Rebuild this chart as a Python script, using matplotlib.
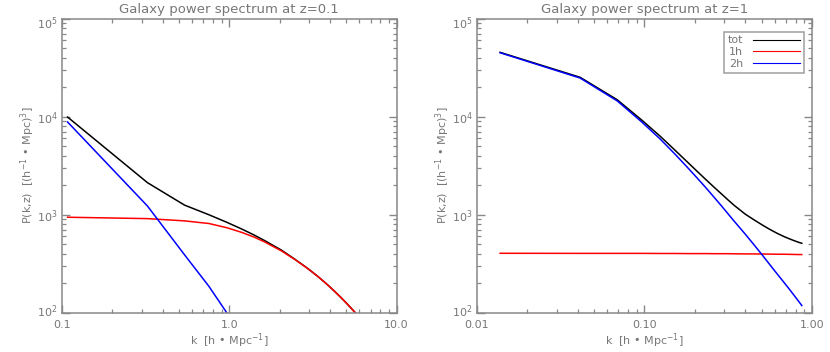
import numpy as np
import matplotlib
matplotlib.use("Agg")
import matplotlib.pyplot as plt
import matplotlib.transforms as mtransforms
from matplotlib.ticker import FixedLocator, LogLocator, NullFormatter

# z = 0.1 panel
k_z01 = [0.108, 0.324, 0.54, 0.756, 0.972, 1.188, 1.404, 1.62, 2.05, 2.48,
         2.92, 3.35, 3.78, 4.21, 4.64, 5.08, 5.51, 5.94]
tot_z01 = [9900, 2120, 1250, 996, 831, 712, 620, 545, 434, 348,
           285, 237, 199, 168, 143, 122, 105, 91]
oneh_z01 = [940, 910, 863, 811, 733, 658, 590, 528, 426, 346,
            284, 237, 199, 168, 143, 122, 105, 91]
twoh_z01 = [8810, 1225, 389, 185, 98, 54]
k2h_z01 = k_z01[:6]

# z = 1 panel
k_z1 = [0.0138, 0.0414, 0.069, 0.0966, 0.1242, 0.1518, 0.1794, 0.207, 0.2346,
        0.2622, 0.2898, 0.3174, 0.345, 0.4002, 0.4554, 0.5106, 0.5658, 0.621,
        0.6762, 0.7314, 0.7866, 0.8418, 0.8694]
tot_z1 = [45300, 25200, 14850, 9210, 6320, 4570, 3480, 2755, 2250,
          1885, 1615, 1400, 1235, 1010, 875, 775, 700, 643,
          600, 567, 540, 518, 510]
oneh_z1 = [403, 402, 402, 402, 401, 401, 400, 400, 400,
           399, 399, 399, 398, 397, 397, 396, 395, 394,
           394, 393, 392, 391, 391]
twoh_z1 = [44870, 24770, 14450, 8810, 5916, 4169, 3076, 2355, 1854,
           1486, 1216, 1007, 849, 631, 482, 378, 302, 247,
           206, 174, 148, 127, 118]

grey = "#777777"
tick_grey = "#888888"
plt.rcParams["font.family"] = "DejaVu Sans"

fig = plt.figure(figsize=(8.3, 3.52), dpi=100)
ax1 = fig.add_axes([0.0747, 0.112, 0.4031, 0.835])
ax2 = fig.add_axes([0.5743, 0.112, 0.4040, 0.835])


def style(ax, xlim, xticks, xlabels, title):
    ax.set_xscale("log")
    ax.set_yscale("log")
    ax.set_xlim(xlim)
    ax.set_ylim(100, 1e5)
    ax.xaxis.set_major_locator(FixedLocator(xticks))
    ax.set_xticklabels(xlabels)
    ax.xaxis.set_minor_locator(LogLocator(base=10, subs=np.arange(2, 10)))
    ax.xaxis.set_minor_formatter(NullFormatter())
    ax.yaxis.set_major_locator(FixedLocator([1e2, 1e3, 1e4, 1e5]))
    ax.set_yticklabels(["10$^2$", "10$^3$", "10$^4$", "10$^5$"])
    ax.yaxis.set_minor_locator(LogLocator(base=10, subs=np.arange(2, 10)))
    ax.yaxis.set_minor_formatter(NullFormatter())
    ax.tick_params(which="both", direction="in", top=True, right=True,
                   color=tick_grey, labelcolor=grey, labelsize=8)
    ax.tick_params(which="major", length=6, width=1.0, pad=5)
    ax.tick_params(axis="y", which="major", pad=3)
    ax.tick_params(which="minor", length=3, width=0.9)
    for s in ax.spines.values():
        s.set_color(tick_grey)
        s.set_linewidth(1.1)
    # IDL puts the end labels a little inside the axis range
    labs = ax.get_yticklabels()
    labs[0].set_transform(labs[0].get_transform() +
                          mtransforms.ScaledTranslation(0, 3 / 100, fig.dpi_scale_trans))
    labs[-1].set_transform(labs[-1].get_transform() +
                           mtransforms.ScaledTranslation(0, -3 / 100, fig.dpi_scale_trans))
    ax.set_title(title, color=grey, fontsize=9.5, pad=4)
    ax.set_xlabel("k  [h \u2022 Mpc$^{-1}$]", color=grey, fontsize=8, labelpad=1)
    ax.set_ylabel("P(k,z)  [(h$^{-1}$ \u2022 Mpc)$^3$]", color=grey, fontsize=8,
                  labelpad=0)
    ax.yaxis.set_label_coords(-0.075, 0.5)


ax1.plot(k_z01, tot_z01, color="black", lw=1.1)
ax1.plot(k_z01, oneh_z01, color="red", lw=1.1)
ax1.plot(k2h_z01, twoh_z01, color="blue", lw=1.1)
style(ax1, (0.1, 10), [0.1, 1, 10], ["0.1", "1.0", "10.0"],
      "Galaxy power spectrum at z=0.1")

ax2.plot(k_z1, tot_z1, color="black", lw=1.1, label="tot")
ax2.plot(k_z1, oneh_z1, color="red", lw=1.1, label="1h")
ax2.plot(k_z1, twoh_z1, color="blue", lw=1.1, label="2h")
style(ax2, (0.01, 1), [0.01, 0.1, 1], ["0.01", "0.10", "1.00"],
      "Galaxy power spectrum at z=1")

leg = ax2.legend(loc="upper right", markerfirst=False, fontsize=8,
                 frameon=True, fancybox=False, handlelength=4.2,
                 borderpad=0.35, labelspacing=0.15, handletextpad=0.9,
                 borderaxespad=0, bbox_to_anchor=(0.975, 0.956))
leg.get_frame().set_edgecolor(tick_grey)
leg.get_frame().set_linewidth(1.1)
for t in leg.get_texts():
    t.set_color(grey)
for l in leg.get_lines():
    l.set_linewidth(0.8)

fig.savefig("out.png", dpi=100)
